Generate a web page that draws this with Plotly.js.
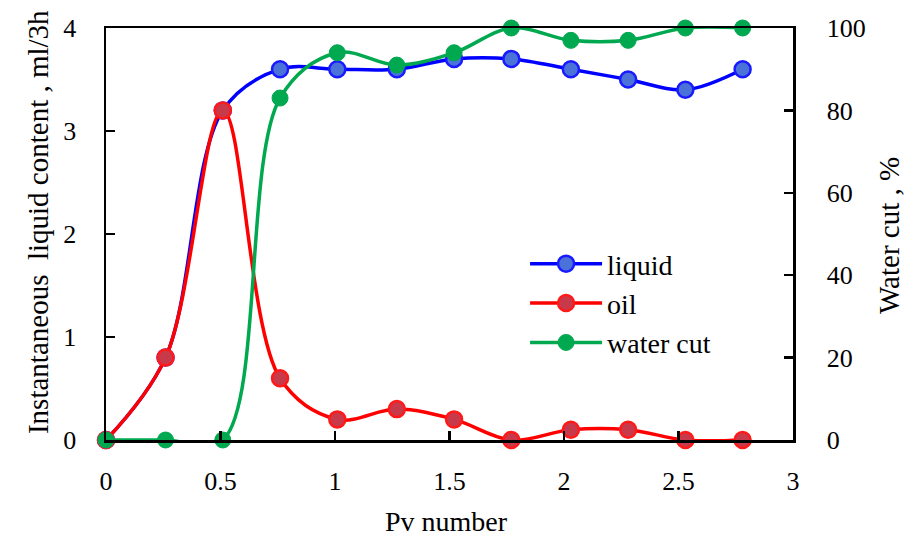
<!DOCTYPE html>
<html><head><meta charset="utf-8">
<script src="https://cdn.plot.ly/plotly-3.0.1.min.js"></script>
<style>html,body{margin:0;padding:0;background:#fff}#chart{width:904px;height:541px}</style>
</head><body><div id="chart"></div>
<script>
const pvNumber = [0, 0.26, 0.51, 0.76, 1.01, 1.27, 1.52, 1.77, 2.03, 2.28, 2.53, 2.78];
const liquid = [0, 0.8, 3.2, 3.6, 3.6, 3.6, 3.7, 3.7, 3.6, 3.5, 3.4, 3.6];
const oil = [0, 0.8, 3.2, 0.6, 0.2, 0.3, 0.2, 0, 0.1, 0.1, 0, 0];
const waterCut = [0, 0, 0, 83, 94, 91, 94, 100, 97, 97, 100, 100];
const xTitle = 'Pv number';
const yTitle = 'Instantaneous  liquid content , ml/3h';
const y2Title = 'Water cut , %';

const fam = 'Liberation Serif';

const traces = [
  {x: pvNumber, y: liquid, name: 'liquid', mode: 'lines+markers', cliponaxis: false,
   line: {color: '#0000ff', width: 3.5, shape: 'spline', smoothing: 1},
   marker: {size: 16, color: '#4a72d8', line: {color: '#1a1aff', width: 2.5}}},
  {x: pvNumber, y: oil, name: 'oil', mode: 'lines+markers', cliponaxis: false,
   line: {color: '#ff0000', width: 3.5, shape: 'spline', smoothing: 1},
   marker: {size: 16, color: '#c83a4a', line: {color: '#ff1a1a', width: 2.5}}},
  {x: pvNumber, y: waterCut, name: 'water cut', yaxis: 'y2', mode: 'lines+markers', cliponaxis: false,
   line: {color: '#00a84f', width: 3.5, shape: 'spline', smoothing: 1},
   marker: {size: 16, color: '#00a84f', line: {color: '#00a84f', width: 1}}}
];

const axisCommon = {ticks: 'inside', ticklen: 9, tickwidth: 2.5, tickcolor: '#000', showline: true,
  linecolor: '#000', linewidth: 2.5, showgrid: false, zeroline: false, ticklabelstandoff: 22,
  tickfont: {family: fam, size: 26, color: '#000'}};

const layout = {
  width: 904, height: 541,
  margin: {l: 106, r: 111, t: 28, b: 101},
  paper_bgcolor: '#fff', plot_bgcolor: '#fff',
  font: {family: fam, color: '#000', size: 26},
  showlegend: true,
  legend: {x: 0.61, y: 0.488, xanchor: 'left', yanchor: 'top', font: {family: fam, size: 28, color: '#000'},
           bgcolor: 'rgba(0,0,0,0)', itemwidth: 72},
  xaxis: Object.assign({}, axisCommon, {range: [0, 3], dtick: 0.5, tick0: 0, mirror: true, ticklabelstandoff: 16}),
  yaxis: Object.assign({}, axisCommon, {range: [0, 4], dtick: 1}),
  yaxis2: Object.assign({}, axisCommon, {range: [0, 100], dtick: 20, overlaying: 'y', side: 'right', ticklabelstandoff: 26}),
  annotations: [
    {text: xTitle, xref: 'paper', yref: 'paper', x: 0.496, y: -0.199, showarrow: false,
     xanchor: 'center', yanchor: 'middle', font: {family: fam, size: 28, color: '#000'}},
    {text: yTitle, xref: 'paper', yref: 'paper', x: -0.099, y: 0.529, showarrow: false, textangle: -90,
     xanchor: 'center', yanchor: 'middle', font: {family: fam, size: 29, color: '#000'}},
    {text: y2Title, xref: 'paper', yref: 'paper', x: 1.1397, y: 0.4976, showarrow: false, textangle: -90,
     xanchor: 'center', yanchor: 'middle', font: {family: fam, size: 29, color: '#000'}}
  ]
};

Plotly.newPlot('chart', traces, layout, {displayModeBar: false, staticPlot: true});
</script></body></html>
